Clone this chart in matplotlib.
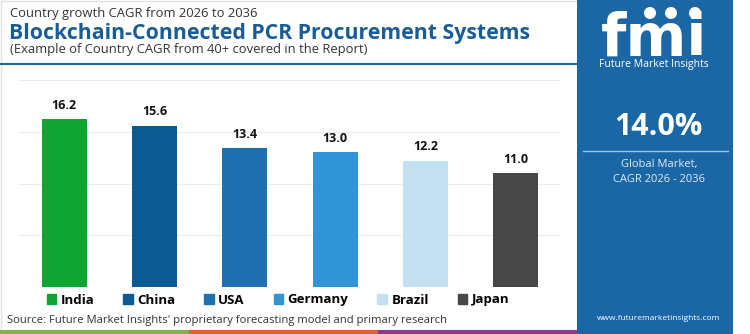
import matplotlib.pyplot as plt
from matplotlib.patches import Rectangle, Circle

countries = ['India', 'China', 'USA', 'Germany', 'Brazil', 'Japan']
cagr = [16.2, 15.6, 13.4, 13.0, 12.2, 11.0]
bar_colors = ['#10a532', '#0c5a92', '#1f70ae', '#3094d6', '#c4e1f3', '#474747']
global_cagr = '14.0%'

plt.rcParams['font.family'] = ['Open Sans', 'DejaVu Sans']

panel_blue = '#1b67a6'

fig = plt.figure(figsize=(7.5, 3.34), dpi=100)

# page layer, in pixel units with y pointing down
bg = fig.add_axes([0, 0, 1, 1])
bg.set_xlim(0, 750)
bg.set_ylim(334, 0)
bg.set_axis_off()

bg.add_patch(Rectangle((0.5, 0.5), 577, 333, fill=False, ec='#e2e2e2', lw=1))
bg.plot([0, 577], [64, 64], color=panel_blue, lw=1.5)

# coloured strip along the bottom
for x0, x1, c in [(0, 189, '#7ab648'), (189, 378, '#e2622b'), (378, 577, '#8b3a8f')]:
    bg.add_patch(Rectangle((x0, 330), x1 - x0, 4, color=c, lw=0))

bg.text(10, 14, 'Country growth CAGR from 2026 to 2036', fontsize=9.4, color='#333333', va='center')
bg.text(9, 33, 'Blockchain-Connected PCR Procurement Systems', fontsize=15.3,
        fontweight='bold', color='#1a5c98', va='center')
bg.text(10, 50, '(Example of Country CAGR from 40+ covered in the Report)', fontsize=9.4,
        color='#333333', va='center')
bg.text(7, 321, "Source: Future Market Insights' proprietary forecasting model and primary research",
        fontsize=8.1, color='#333333', va='center')

# side panel
bg.add_patch(Rectangle((577, 0), 156, 334, color=panel_blue, lw=0))
bg.text(654, 56, 'fmi', fontsize=42, fontweight='bold', color='white', ha='center',
        va='baseline', family='DejaVu Sans')
for yy in range(12, 58, 4):
    bg.plot([596, 714], [yy, yy], color=panel_blue, lw=0.9)
for cx in (650, 671, 695):
    bg.add_patch(Circle((cx, 13), 6, color='white', lw=0, zorder=4))
bg.text(654, 65, 'Future Market Insights', fontsize=7.5, color='white', ha='center', va='center')
bg.text(658, 127, global_cagr, fontsize=22, fontweight='bold', color='white', ha='center', va='center')
bg.plot([583, 728], [151, 151], color='#a9c6e0', lw=1)
bg.text(659, 165, 'Global Market,', fontsize=8, color='#e0ebf5', ha='center', va='center')
bg.text(659, 179, 'CAGR 2026 - 2036', fontsize=8, color='#e0ebf5', ha='center', va='center')
bg.text(659, 319, 'www.futuremarketinsights.com', fontsize=6, color='white', ha='center', va='center')

# bar chart
ax = fig.add_axes([19 / 750, 1 - 287 / 334, 542 / 750, 207 / 334])
xs = list(range(len(countries)))
ax.bar(xs, cagr, width=0.5, color=bar_colors, zorder=3)
ax.set_xlim(-0.5, 5.5)
ax.set_ylim(0, 20)
ax.set_yticks([0, 5, 10, 15, 20])
ax.grid(axis='y', color='#ececec', lw=0.8)
ax.tick_params(left=False, bottom=False, labelleft=False, labelbottom=False)
ax.set_facecolor('none')
for s in ax.spines.values():
    s.set_visible(False)
for xi, v in zip(xs, cagr):
    ax.annotate(f'{v:.1f}', (xi, v), xytext=(0, 10), textcoords='offset points',
                ha='center', va='center', fontsize=9, fontweight='bold', color='#111111')

handles = [Rectangle((0, 0), 1, 1, color=c) for c in bar_colors]
fig.legend(handles, countries, ncol=6, loc='center', bbox_to_anchor=(278 / 750, 1 - 300 / 334),
           frameon=False, handlelength=0.7, handleheight=0.7, columnspacing=2.2,
           handletextpad=0.35, prop=dict(weight='bold', size=9.5))

fig.savefig('out.png', dpi=100)
